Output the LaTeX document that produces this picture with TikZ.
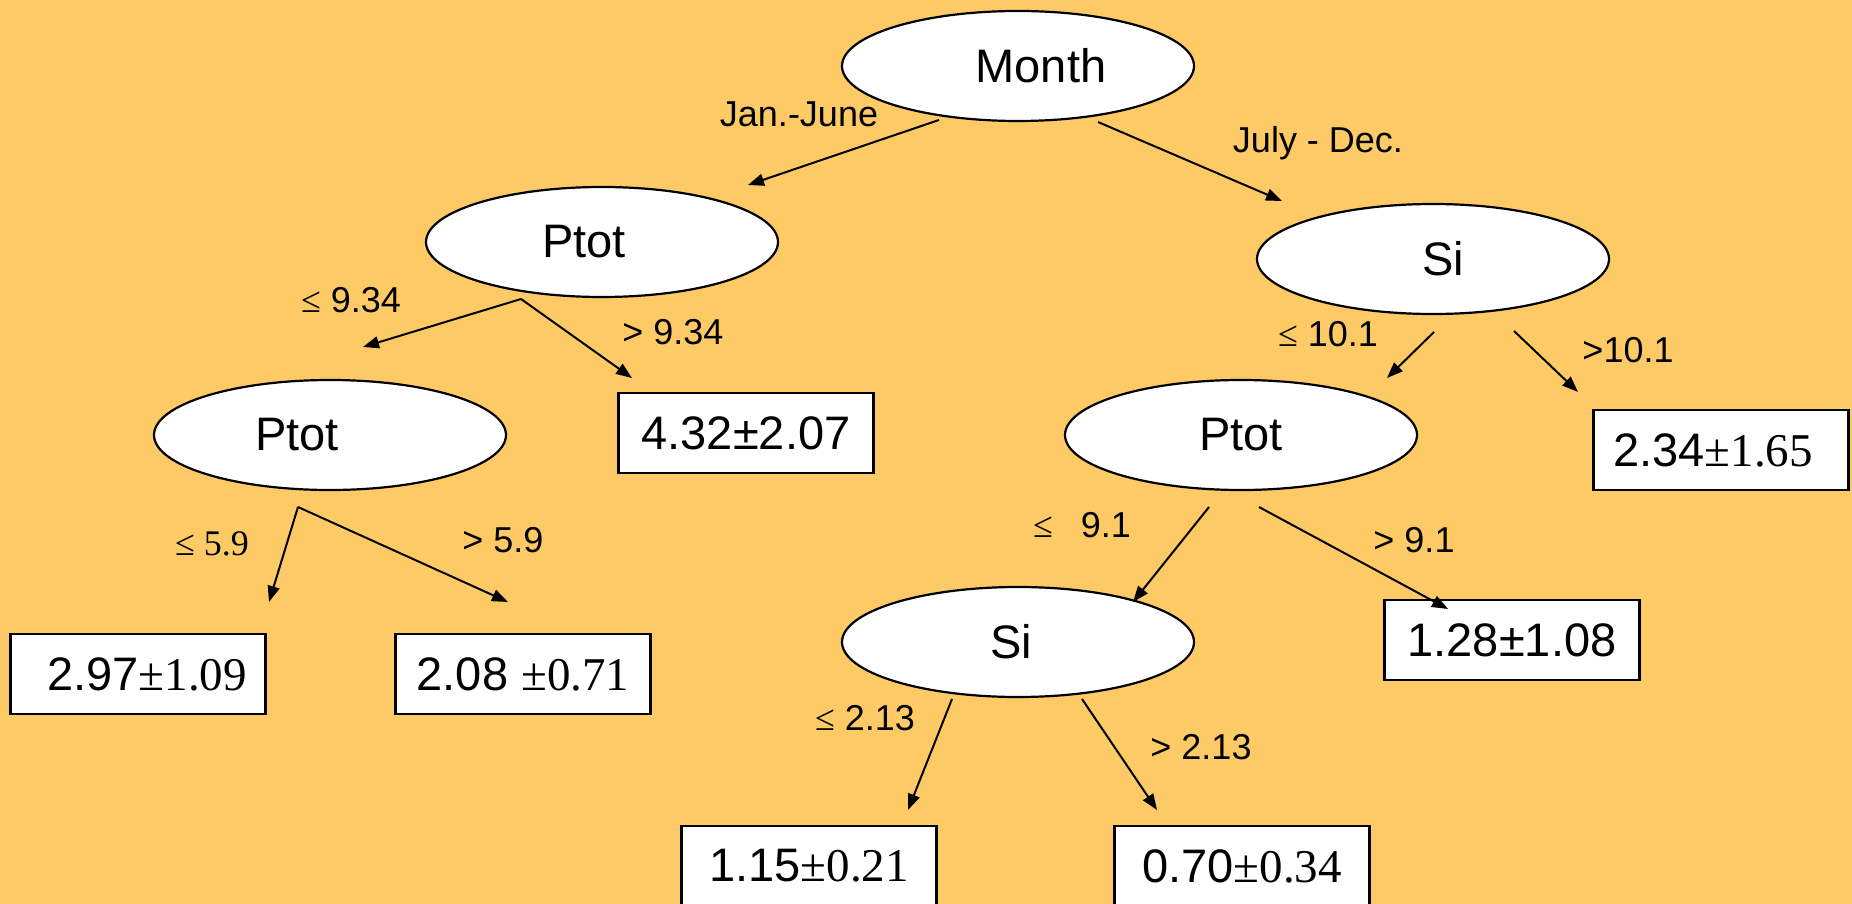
\documentclass[tikz,border=0pt]{standalone}
\usepackage{fontspec}
\setmainfont{Liberation Sans}
\newfontfamily\serif{Liberation Serif}
\usetikzlibrary{shapes.geometric,arrows.meta}
\definecolor{bgyellow}{HTML}{FDCA66}

\tikzset{
  decision/.style={ellipse, draw, line width=1.1pt, fill=white,
    minimum width=176pt, minimum height=55pt, inner sep=0pt,
    font=\fontsize{23.5}{28}\selectfont},
  leaf/.style={rectangle, draw, line width=1.4pt, fill=white,
    minimum width=127.5pt, minimum height=40pt, inner sep=0pt,
    font=\fontsize{23.5}{28}\selectfont},
  branch/.style={font=\fontsize{18}{22}\selectfont, inner sep=0pt},
  split/.style={-{Triangle[length=8pt,width=6pt]}, line width=1pt},
}

\begin{document}
\begin{tikzpicture}[x=0.5pt,y=-0.5pt]
  % canvas
  \fill[bgyellow] (0,0) rectangle (1852,904);
  \useasboundingbox (0,0) rectangle (1852,904);
  \clip (0,0) rectangle (1852,904);

  % decision nodes
  \node[decision] (month) at (1018,66)  {\hspace*{23pt}Month};
  \node[decision] (ptotA) at (602,242)  {Ptot\hspace*{18pt}};
  \node[decision] (siA)   at (1433,259) {\hspace*{10pt}Si};
  \node[decision] (ptotB) at (330,435)  {Ptot\hspace*{33pt}};
  \node[decision] (ptotC) at (1241,435) {Ptot};
  \node[decision] (siB)   at (1018,642) {Si\hspace*{7pt}};

  % leaves
  \node[leaf] (l432) at (746,433)  {4.32±2.07};
  \node[leaf] (l234) at (1721,450) {2.34{\serif ±1.65}\hspace*{8pt}};
  \node[leaf] (l297) at (138,674)  {\hspace*{9pt}2.97{\serif ±1.09}};
  \node[leaf] (l208) at (523,674)  {2.08 {\serif ±0.71}};
  \node[leaf] (l128) at (1512,640) {1.28±1.08};
  \node[leaf] (l115) at (809,866)  {1.15{\serif ±0.21}};
  \node[leaf] (l070) at (1242,866) {0.70{\serif ±0.34}};

  % arrow end points
  \coordinate (month-l) at (939,120);   \coordinate (ptotA-in) at (748,185);
  \coordinate (month-r) at (1098,122);  \coordinate (siA-in)   at (1282,201);
  \coordinate (ptotA-out) at (521,299);
  \coordinate (ptotB-in) at (363,347);  \coordinate (l432-in)  at (632,378);
  \coordinate (ptotB-out) at (298,507);
  \coordinate (l297-in) at (269,602);   \coordinate (l208-in)  at (508,602);
  \coordinate (siA-l) at (1434,332);    \coordinate (ptotC-in) at (1387,378);
  \coordinate (siA-r) at (1514,331);    \coordinate (l234-in)  at (1578,392);
  \coordinate (ptotC-l) at (1209,507);  \coordinate (siB-in)   at (1133,602);
  \coordinate (ptotC-r) at (1259,507);  \coordinate (l128-in)  at (1448,609);
  \coordinate (siB-l) at (952,699);     \coordinate (l115-in)  at (908,810);
  \coordinate (siB-r) at (1082,699);    \coordinate (l070-in)  at (1157,810);

  % branches
  \draw[split] (month-l) -- (ptotA-in);
  \draw[split] (month-r) -- (siA-in);
  \draw[split] (ptotA-out) -- (ptotB-in);
  \draw[split] (ptotA-out) -- (l432-in);
  \draw[split] (ptotB-out) -- (l297-in);
  \draw[split] (ptotB-out) -- (l208-in);
  \draw[split] (siA-l) -- (ptotC-in);
  \draw[split] (siA-r) -- (l234-in);
  \draw[split] (ptotC-l) -- (siB-in);
  \draw[split] (ptotC-r) -- (l128-in);
  \draw[split] (siB-l) -- (l115-in);
  \draw[split] (siB-r) -- (l070-in);

  % branch conditions
  \node[branch] (c1)  at (799,114)  {Jan.-June};
  \node[branch] (c2)  at (1318,143) {July - Dec.};
  \node[branch] (c3)  at (351,300)  {{\serif ≤} 9.34};
  \node[branch] (c4)  at (673,332)  {> 9.34};
  \node[branch] (c5)  at (212,544)  {\serif ≤ 5.9};
  \node[branch] (c6)  at (503,540)  {> 5.9};
  \node[branch] (c7)  at (1328,334) {{\serif ≤} 10.1};
  \node[branch] (c8)  at (1628,350) {>10.1};
  \node[branch] (c9)  at (1082,525) {{\serif ≤}\hspace{14pt}9.1};
  \node[branch] (c10) at (1414,540) {> 9.1};
  \node[branch] (c11) at (865,718)  {{\serif ≤} 2.13};
  \node[branch] (c12) at (1201,747) {> 2.13};
\end{tikzpicture}
\end{document}
